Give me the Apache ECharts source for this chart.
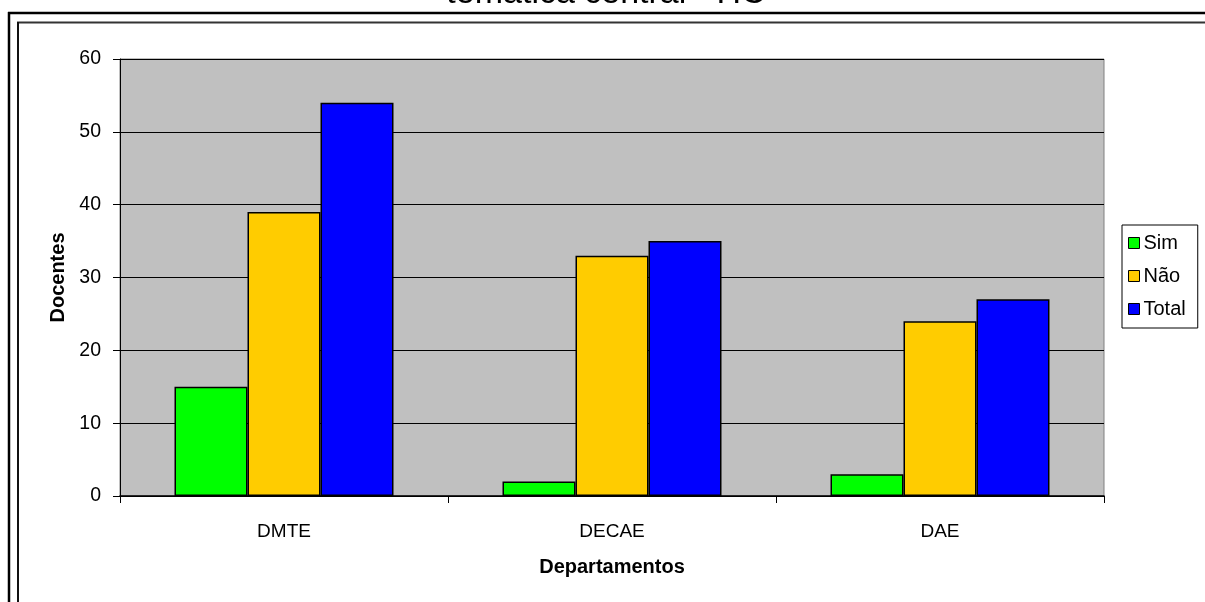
<!DOCTYPE html>
<html>
<head>
<meta charset="utf-8">
<script src="https://cdn.jsdelivr.net/npm/echarts@6/dist/echarts.min.js"></script>
<style>
  html, body { margin: 0; padding: 0; background: #fff; }
  #chart { width: 1205px; height: 602px; }
</style>
</head>
<body>
<div id="chart"></div>
<script>
// Docentes por departamento
const categories = ['DMTE', 'DECAE', 'DAE'];
const simValues = [15, 2, 3];
const naoValues = [39, 33, 24];
const totalValues = [54, 35, 27];
const seriesNames = ['Sim', 'Não', 'Total'];
const yTicks = { min: 0, max: 60, interval: 10 };

const FONT = '"Liberation Sans", Arial, sans-serif';

const chart = echarts.init(document.getElementById('chart'));

function barSeries(name, data, color) {
  return {
    name: name,
    type: 'bar',
    data: data,
    barWidth: 73,
    barGap: '0%',
    itemStyle: { color: color, borderColor: '#000', borderWidth: 1.5 },
    emphasis: { disabled: true },
    animation: false
  };
}

chart.setOption({
  animation: false,
  backgroundColor: '#fff',
  textStyle: { fontFamily: FONT },
  grid: {
    left: 120, right: 101, top: 59, bottom: 106,
    show: true,
    backgroundColor: '#c0c0c0',
    borderColor: '#808080',
    borderWidth: 1
  },
  legend: {
    orient: 'vertical',
    left: 1122,
    top: 225,
    padding: [8, 12, 9, 6],
    itemGap: 13,
    itemWidth: 11,
    itemHeight: 11,
    icon: 'rect',
    borderColor: '#000',
    borderWidth: 1,
    backgroundColor: '#fff',
    textStyle: { fontFamily: FONT, fontSize: 20, color: '#000', padding: [0, 0, 0, -1] },
    itemStyle: { borderColor: '#000', borderWidth: 1 },
    data: seriesNames
  },
  xAxis: {
    type: 'category',
    data: categories,
    name: 'Departamentos',
    nameLocation: 'middle',
    nameGap: 61,
    nameTextStyle: { fontFamily: FONT, fontSize: 20, fontWeight: 'bold', color: '#000' },
    axisLine: { lineStyle: { color: '#000', width: 1.5 } },
    axisTick: { show: true, length: 7, lineStyle: { color: '#000', width: 1 } },
    axisLabel: { fontFamily: FONT, fontSize: 19, color: '#000', margin: 26 },
    splitLine: { show: false }
  },
  yAxis: {
    type: 'value',
    min: yTicks.min,
    max: yTicks.max,
    interval: yTicks.interval,
    name: 'Docentes',
    nameLocation: 'middle',
    nameGap: 52,
    nameRotate: 90,
    nameTextStyle: { fontFamily: FONT, fontSize: 20, fontWeight: 'bold', color: '#000' },
    axisLine: { show: true, lineStyle: { color: '#000', width: 1 } },
    axisTick: { show: true, length: 7, lineStyle: { color: '#000', width: 1 } },
    axisLabel: { fontFamily: FONT, fontSize: 19.5, color: '#000', margin: 19 },
    splitLine: { show: true, lineStyle: { color: '#000', width: 1 } }
  },
  graphic: [
    // page frame
    { type: 'line', shape: { x1: 8, y1: 13, x2: 1205, y2: 13 }, style: { stroke: '#000', lineWidth: 2.5 }, silent: true },
    { type: 'line', shape: { x1: 9, y1: 12, x2: 9, y2: 602 }, style: { stroke: '#000', lineWidth: 2.5 }, silent: true },
    { type: 'line', shape: { x1: 17, y1: 22.5, x2: 1205, y2: 22.5 }, style: { stroke: '#333', lineWidth: 2 }, silent: true },
    { type: 'line', shape: { x1: 18, y1: 22, x2: 18, y2: 602 }, style: { stroke: '#111', lineWidth: 2 }, silent: true },
    // chart title (upper part lies above the page)
    {
      type: 'text',
      style: {
        text: 'temática central - HC',
        x: 606, y: 11,
        align: 'center',
        verticalAlign: 'bottom',
        fontFamily: FONT,
        fontSize: 34,
        fontWeight: 'normal',
        fill: '#000'
      },
      silent: true
    }
  ],
  series: [
    barSeries(seriesNames[0], simValues, '#00ff00'),
    barSeries(seriesNames[1], naoValues, '#ffcc00'),
    barSeries(seriesNames[2], totalValues, '#0000ff')
  ]
});
</script>
</body>
</html>
